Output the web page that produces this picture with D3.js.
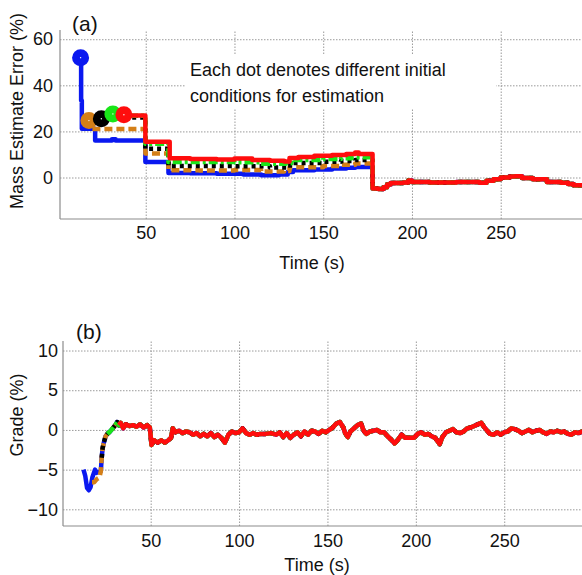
<!DOCTYPE html>
<html>
<head>
<meta charset="utf-8">
<script src="https://cdn.jsdelivr.net/npm/d3@7"></script>
<style>
  body { margin: 0; background: #fff; }
  text { font-family: "Liberation Sans", Arial, sans-serif; fill: #111; }
  .grid line { stroke: #9a9a9a; stroke-width: 1; stroke-dasharray: 1.5,1.5; }
  .grid path { display: none; }
  .tick text { font-size: 18px; }
</style>
</head>
<body>
<svg id="svg1" width="582" height="575"></svg>
<script>
// series names, colours and dash styles
const seriesNames = ["blue", "orange", "black", "green", "red"];
const seriesColors = ["#0a18f0", "#d47f17", "#000000", "#19e619", "#ff0d0d"];
const seriesDash = [null, "8,4", "4,4", "9,3,3,3", null];

// ticks
const xTicks = [50, 100, 150, 200, 250];
const massTicks = [0, 20, 40, 60];
const gradeTicks = [-10, -5, 0, 5, 10];

// (a) mass estimate error (%), [time, value] step points
const massBlue = [[13.3,52],[13.6,33.4],[14,21.2],[21.5,16.1],[31,16.6],[33,16.1],[49.8,6.7],[62.8,2.0],[75,1.8],[90,1.6],[105,1.3],[115,1.0],[125,1.3],[130,2.4],[133,3.2],[145,3.5],[155,3.9],[163,4.2],[168,4.6]];
const massOrange = [[18,24.7],[19.5,21.0],[49.8,10.4],[62.8,3.2],[80,3.0],[100,3.3],[115,2.6],[128,2.8],[131,4.5],[150,5.0],[160,5.5],[168,6.1]];
const massBlack = [[25,25.5],[26.5,26.0],[49.8,12.5],[62.8,5.0],[100,4.9],[120,4.3],[130,5.2],[133,6.3],[150,6.8],[160,7.2],[168,7.6]];
const massGreen = [[31.5,27.6],[32.5,26.8],[49.8,14.7],[62.8,6.7],[100,6.6],[115,6.0],[129,6.2],[132,7.6],[150,8.0],[160,8.4],[166,8.8]];
const massRed = [[37.7,27.2],[38.5,26.9],[49.8,15.5],[63.5,8.4],[75,8.0],[90,7.8],[100,8.2],[110,7.6],[120,7.3],[128,7.0],[131,8.5],[136,8.9],[145,9.4],[155,9.8],[163,10.2],[168,10.9],[170,10.2]];
// all estimates coincide after ~178 s
const massTail = [[177.8,-4.8],[181,-5.0],[184,-4.2],[186,-3.0],[188,-2.4],[195,-2.2],[198,-1.3],[200,-2.0],[210,-2.2],[225,-2.0],[238,-2.3],[242,-1.4],[246,-0.8],[250,0.0],[255,0.4],[258,0.6],[262,-0.2],[268,-0.8],[276,-1.9],[284,-2.3],[288,-2.8],[291,-3.4],[296,-3.2]];

// (b) grade (%), [time, value]
const gradeBlueHead = [[12,-5.0],[13,-5.8],[14,-7.3],[15,-7.6],[16,-7.2],[17,-6.0],[18.5,-5.0],[19.5,-5.4],[20.5,-5.3]];
const gradeOrangeHead = [[16.8,-6.6],[18,-6.6],[19.5,-6.2],[21,-6.0]];
const gradeStart = [12, 16.8, 22, 25, 31.8];
const gradeShared = [[21.8,-5.2],[22.3,-3.5],[22.8,-2.3],[23.5,-1.6],[24.5,-0.8],[25.5,-0.5],[27,-0.2],[28.5,0.2],[30,0.6],[31,1.0],[32,0.6],[33,0.9],[34.5,0.2],[36,0.7],[38,0.5],[40,0.6],[42,0.4],[44,0.7],[46,0.3],[48,0.6],[49.5,0.3],[50.5,-1.9],[52,-1.3],[54,-1.6],[56,-1.3],[58,-1.6],[60,-1.3],[61.5,-1.0],[62.5,0.2],[64,-0.3],[66,-0.1],[68,-0.4],[70,-0.2],[72,-0.3],[74,-0.6],[76,-0.4],[78,-0.8],[80,-0.5],[82,-0.8],[84,-0.4],[86,-0.9],[88,-0.6],[90,-1.0],[92,-1.6],[94,-0.6],[96,-0.2],[98,-0.4],[100,-0.3],[102,0.2],[104,-0.4],[106,-0.6],[108,-0.4],[110,-0.6],[112,-0.5],[115,-0.5],[118,-0.4],[121,-0.6],[123,-0.3],[125,-0.9],[127,-0.4],[129,-1.0],[131,-0.6],[133,-0.3],[135,-0.8],[137,-0.2],[139,-0.6],[141,-0.1],[143,-0.2],[145,-0.5],[147,-0.1],[149,-0.3],[151,0.0],[153,0.3],[155,0.8],[157,1.0],[159,0.3],[160,-0.4],[161.5,-0.9],[163,-0.2],[165,0.2],[167,0.6],[169,0.8],[170.5,-0.1],[172,-0.5],[174,-0.2],[176,-0.1],[178,0.0],[180,-0.3],[182,-0.3],[184,-0.8],[186,-1.2],[188,-1.7],[190,-1.2],[192,-0.6],[194,-1.0],[197,-1.0],[199,-1.0],[201,-0.5],[203,-0.3],[205,-0.6],[207,-0.5],[209,-0.8],[211,-1.0],[213.5,-1.8],[215,-0.9],[217,-0.3],[219,-0.1],[221,0.1],[223,-0.3],[225,-0.4],[227,-0.2],[229,0.2],[231,0.3],[233,0.5],[235,0.7],[237,0.9],[238.5,0.4],[240,0.0],[242,-0.5],[244,-0.6],[246,-0.3],[248,-0.6],[250,-0.3],[252,-0.2],[254,0.2],[256,0.1],[258,-0.1],[260,-0.4],[262,-0.2],[264,0.0],[266,-0.3],[268,-0.1],[270,0.0],[272,-0.3],[274,-0.5],[276,-0.2],[278,-0.3],[280,-0.1],[282,-0.3],[284,-0.2],[286,-0.5],[288,-0.6],[290,-0.3],[292,-0.4],[294,-0.2],[296,-0.3]];

const svg = d3.select("#svg1");

const massSeries = [massBlue, massOrange, massBlack, massGreen, massRed].map(s => s.concat(massTail));
const gradeSeries = seriesNames.map((n, i) => {
  let head = i == 0 ? gradeBlueHead : (i == 1 ? gradeOrangeHead : []);
  return head.concat(gradeShared.filter(d => d[0] >= gradeStart[i]));
});

function drawPanel(o) {
  const x = d3.scaleLinear().domain(o.xDomain).range([o.left, 582]);
  const y = d3.scaleLinear().domain(o.yDomain).range([o.bottom, o.top]);
  const g = svg.append("g");

  // grid
  g.append("g").attr("class", "grid")
    .attr("transform", `translate(0,${o.bottom})`)
    .call(d3.axisBottom(x).tickValues(xTicks).tickSize(-(o.bottom - o.top)).tickFormat(""));
  g.append("g").attr("class", "grid")
    .attr("transform", `translate(${o.left},0)`)
    .call(d3.axisLeft(y).tickValues(o.yTicks).tickSize(-(582 - o.left)).tickFormat(""));

  // white box behind annotation
  if (o.note) {
    g.append("rect").attr("x", 186).attr("y", 55).attr("width", 310).attr("height", 53).attr("fill", "#fff");
  }

  // axis lines
  g.append("line").attr("x1", o.left).attr("x2", o.left).attr("y1", o.top).attr("y2", o.bottom)
    .attr("stroke", "#8c8c8c").attr("stroke-width", 1.2);
  g.append("line").attr("x1", o.left).attr("x2", 582).attr("y1", o.bottom).attr("y2", o.bottom)
    .attr("stroke", "#8c8c8c").attr("stroke-width", 1.2);

  // tick labels
  const xa = g.append("g").attr("transform", `translate(0,${o.bottom})`)
    .call(d3.axisBottom(x).tickValues(xTicks).tickSize(0).tickPadding(o.xPad));
  xa.select(".domain").remove();
  const ya = g.append("g").attr("transform", `translate(${o.left},0)`)
    .call(d3.axisLeft(y).tickValues(o.yTicks).tickSize(0).tickPadding(o.yPad).tickFormat(d3.format("d")));
  ya.select(".domain").remove();
  g.selectAll(".tick text").attr("fill", "#111");

  // lines
  const clipId = "clip" + o.label;
  svg.append("clipPath").attr("id", clipId).append("rect")
    .attr("x", o.left).attr("y", o.top - 12).attr("width", 582 - o.left).attr("height", o.bottom - o.top + 12);
  const line = d3.line().x(d => x(d[0])).y(d => y(d[1])).curve(o.curve);
  const lg = g.append("g").attr("clip-path", `url(#${clipId})`);
  o.series.forEach((s, i) => {
    lg.append("path").datum(s)
      .attr("d", line)
      .attr("fill", "none")
      .attr("stroke", seriesColors[i])
      .attr("stroke-width", 4.5)
      .attr("stroke-linejoin", "round")
      .attr("stroke-dasharray", seriesDash[i]);
  });

  // initial condition dots (filled marker with a small white centre)
  if (o.dots) {
    o.series.forEach((s, i) => {
      g.append("circle").attr("cx", x(s[0][0])).attr("cy", y(s[0][1])).attr("r", 8.5)
        .attr("fill", seriesColors[i]).attr("stroke", "none");
      g.append("circle").attr("cx", x(s[0][0])).attr("cy", y(s[0][1])).attr("r", 0.7)
        .attr("fill", "#fff").attr("stroke", "none");
    });
  }

  // labels
  g.append("text").attr("x", o.labelX).attr("y", o.labelY).attr("font-size", 21).text("(" + o.label + ")");
  g.append("text").attr("x", o.timeX).attr("y", o.timeY).attr("text-anchor", "middle").attr("font-size", 18).text("Time (s)");
  g.append("text").attr("transform", `translate(23,${o.yLabelY}) rotate(-90)`)
    .attr("text-anchor", "middle").attr("font-size", 18).text(o.yLabel);

  if (o.note) {
    g.append("text").attr("x", 190).attr("y", 76).attr("font-size", 18).text("Each dot denotes different initial");
    g.append("text").attr("x", 190).attr("y", 102).attr("font-size", 18).text("conditions for estimation");
  }
}

drawPanel({
  label: "a", xDomain: [1.7, 295.8], yDomain: [-18, 64], left: 60, top: 30, bottom: 219,
  yTicks: massTicks, xPad: 7, yPad: 7, series: massSeries, curve: d3.curveStepAfter, dots: true,
  labelX: 72, labelY: 31, timeX: 312, timeY: 269, yLabel: "Mass Estimate Error (%)", yLabelY: 111, note: true
});

drawPanel({
  label: "b", xDomain: [0.4, 294], yDomain: [-12.1, 11.2], left: 63, top: 341, bottom: 526,
  yTicks: gradeTicks, xPad: 8, yPad: 5, series: gradeSeries, curve: d3.curveLinear, dots: false,
  labelX: 76, labelY: 339, timeX: 317, timeY: 571, yLabel: "Grade (%)", yLabelY: 415, note: false
});
</script>
</body>
</html>
